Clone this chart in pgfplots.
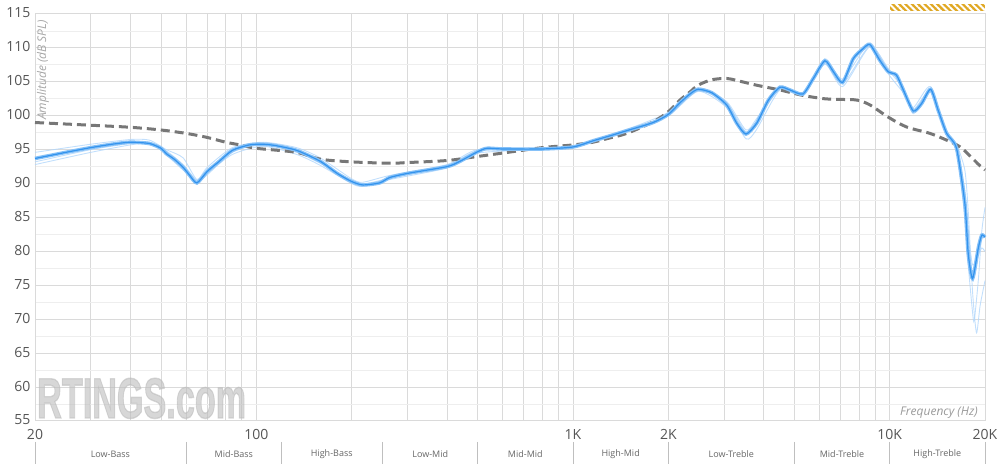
\documentclass[border=0pt]{standalone}
\usepackage{fontspec}
\setmainfont{Open Sans}
\newfontfamily\wmfont[FakeBold=2.5]{Liberation Sans}
\usepackage{pgfplots}
\pgfplotsset{compat=1.18}
\usetikzlibrary{patterns.meta}
\definecolor{gridmaj}{HTML}{DADADA}
\definecolor{gridmin}{HTML}{EEEEEE}
\definecolor{tickgray}{HTML}{555555}
\definecolor{mainblue}{HTML}{2A8EEC}
\definecolor{haloblue}{HTML}{86C1F8}
\definecolor{thinblue}{HTML}{B3D7FB}
\definecolor{targetgray}{HTML}{777777}
\definecolor{hatchgold}{HTML}{E0A824}
\definecolor{wm}{HTML}{BDBDBD}

\begin{document}
\begin{tikzpicture}
\useasboundingbox (-35pt,-49pt) rectangle (965pt,421pt);
\begin{axis}[
  scale only axis,
  width=950pt, height=407pt,
  xmode=log,
  xmin=20, xmax=20000,
  ymin=55, ymax=115,
  clip=false,
  xtick={20,30,40,50,60,70,80,90,100,200,300,400,500,600,700,800,900,1000,2000,3000,4000,5000,6000,7000,8000,9000,10000,20000},
  xticklabels={20,,,,,,,,100,,,,,,,,,1K,2K,,,,,,,,10K,20K},
  ytick={55,60,...,115},
  minor y tick num=1,
  grid=both,
  major grid style={gridmaj, line width=1pt},
  minor grid style={gridmin, line width=0.8pt},
  x grid style={gridmaj, line width=1pt},
  major tick length=0pt, minor tick length=0pt,
  axis line style={gridmaj, line width=1pt},
  tick label style={font=\fontsize{14}{16}\selectfont, text=tickgray},
  /pgf/number format/assume math mode=true,
  yticklabel style={xshift=-1pt, yshift=1pt},
  xticklabel style={yshift=-5pt},
]
% watermark
\node[anchor=base west, text=wm, text opacity=0.6, inner sep=0pt, xscale=0.6]
  at ([xshift=2pt,yshift=3pt]rel axis cs:0,0) {\wmfont\fontsize{57}{57}\selectfont\bfseries RTINGS.com};

% axis labels
\node[anchor=east, rotate=90, inner sep=0pt, text=black!35]
  at ([xshift=8pt,yshift=-6pt]rel axis cs:0,1) {\fontsize{12}{14}\selectfont\itshape Amplitude (dB SPL)};
\node[anchor=east, inner sep=0pt, text=black!40]
  at ([xshift=-7pt,yshift=8pt]rel axis cs:1,0) {\fontsize{12}{14}\selectfont\itshape Frequency (Hz)};

% thin individual measurements
\addplot[thinblue, line width=0.9pt, smooth, tension=0.4, opacity=0.8] coordinates {
(20,92.8)(30,94.6)(40,95.7)(46,96.0)(52,94.8)(58.7,92.8)(64.9,90.5)(70,91.5)(84,94.3)(105,95.5)(134,94.3)(159,92.7)(200,90.0)(217,89.6)(264,90.6)(400,92.3)(500,94.5)(800,95.0)(1000,95.3)(1479,97.6)(2000,100.0)(2483,103.6)(3056,101.2)(3516,96.6)(3802,98.0)(4500,103.8)(5320,103.0)(6240,107.6)(7100,104.3)(8660,110.2)(9890,107.0)(11040,104.3)(11870,100.3)(13470,103.5)(15130,97.8)(16260,95.8)(17270,92.0)(17700,86.0)(18270,74.0)(18800,68.0)(19300,72.0)(20000,75.7)
};
\addplot[thinblue, line width=0.9pt, smooth, tension=0.4, opacity=0.8] coordinates {
(20,94.6)(30,95.8)(40,96.5)(46,96.4)(52,95.0)(58.7,93.8)(64.9,90.6)(70,92.4)(84,95.3)(105,96.1)(134,95.3)(159,93.8)(200,90.7)(217,90.2)(264,91.2)(400,92.8)(500,95.0)(800,95.2)(1000,95.5)(1479,98.0)(2000,100.5)(2483,104.1)(3056,102.1)(3516,97.9)(3802,99.6)(4500,104.3)(5320,103.4)(6240,108.4)(7100,105.4)(8660,110.7)(9890,106.2)(11040,103.4)(11870,101.2)(13470,104.3)(15130,97.0)(16260,94.8)(17270,85.0)(17700,78.0)(18270,71.0)(18500,69.8)(19070,76.0)(19540,83.0)(20000,86.5)
};
\addplot[thinblue, line width=0.9pt, smooth, tension=0.4, opacity=0.8] coordinates {
(20,93.2)(30,95.0)(40,95.9)(46,96.1)(52,94.2)(58.7,92.0)(64.9,90.3)(70,91.3)(84,94.6)(105,95.9)(134,94.6)(159,93.0)(200,90.4)(217,89.9)(264,90.8)(400,92.6)(500,94.8)(800,95.1)(1000,95.4)(1479,97.7)(2000,100.1)(2483,103.7)(3056,101.8)(3516,97.6)(3802,99.2)(4500,104.0)(5320,103.1)(6240,107.8)(7100,104.7)(8660,110.3)(9890,106.8)(11040,104.0)(11870,100.9)(13470,103.7)(15130,97.6)(16260,95.5)(17270,89.0)(17700,83.0)(18270,78.0)(19070,79.5)(19540,80.5)(20000,80.0)
};

% target curve
\addplot[targetgray, line width=3pt, dash pattern=on 9pt off 5pt, smooth, tension=0.5] table {
f db
20 99.0
30 98.6
40 98.3
50 97.9
60 97.4
70 96.8
80 96.1
90 95.65
100 95.2
134 94.6
159 93.6
200 93.2
264 93.0
300 93.1
400 93.4
500 94.0
600 94.5
800 95.3
1000 95.7
1156 96.1
1300 96.7
1479 97.4
1790 99.1
2000 100.6
2175 102.3
2340 103.5
2483 104.5
2740 105.3
3056 105.5
3289 105.2
3802 104.5
4500 103.8
5320 103.0
6240 102.5
7100 102.4
7900 102.3
8660 101.6
9890 99.8
11300 98.35
13400 97.4
15130 96.4
16700 95.4
18000 94.0
19300 92.6
20000 92.0
};

% main measurement
\pgfplotstableread{
f db
20 93.7
25 94.6
30 95.3
35 95.8
40 96.1
46 95.9
50 95.2
52 94.4
55 93.6
58.7 92.4
61.6 91.2
64.9 90.1
70 91.8
76 93.2
84 94.9
95 95.7
105 95.8
115 95.6
134 94.9
159 93.3
180 91.5
200 90.3
217 89.8
245 90.1
264 90.9
300 91.5
400 92.5
440 93.3
500 94.7
535 95.2
600 95.1
800 95.1
1000 95.4
1156 96.3
1300 97.0
1479 97.8
1790 99.0
2000 100.2
2175 101.9
2340 103.2
2483 103.9
2740 103.4
3056 101.6
3289 98.9
3516 97.3
3802 98.9
4140 102.3
4500 104.2
4840 103.8
5320 103.2
5740 105.5
6240 108.1
6640 106.5
7100 104.9
7670 108.4
8200 109.8
8660 110.5
9300 108.2
9890 106.5
10500 106.0
11040 103.8
11870 100.7
12610 101.8
13470 103.9
14230 100.8
15130 97.4
16260 95.2
17270 87.1
17700 79.7
18270 76.0
19070 80.6
19540 82.4
20000 82.1
}\mainfr
\addplot[haloblue, line width=3.6pt, smooth, tension=0.4] table {\mainfr};
\addplot[mainblue, line width=1.2pt, smooth, tension=0.4, opacity=0.9] table {\mainfr};

% hatched bar (high-treble marker)
\fill[hatchgold] ([yshift=3pt]axis cs:10000,115) rectangle ([yshift=10pt]axis cs:20000,115);
\fill[pattern={Lines[angle=-45,distance=4.5pt,line width=2pt]}, pattern color=white]
  ([yshift=3pt]axis cs:10000,115) rectangle ([yshift=10pt]axis cs:20000,115);

% frequency region band
\pgfplotsinvokeforeach{20,60,120,250,500,1000,2000,5000,10000,20000}{
  \draw[black!25, line width=0.8pt] ([yshift=-21pt]axis cs:#1,55) -- ([yshift=-43pt]axis cs:#1,55);
}
\node[text=black!60, inner sep=0pt] at ([yshift=-33pt]axis cs:34.6,55) {\fontsize{9}{10}\selectfont Low-Bass};
\node[text=black!60, inner sep=0pt] at ([yshift=-33pt]axis cs:84.9,55) {\fontsize{9}{10}\selectfont Mid-Bass};
\node[text=black!60, inner sep=0pt] at ([yshift=-33pt]axis cs:173,55) {\fontsize{9}{10}\selectfont High-Bass};
\node[text=black!60, inner sep=0pt] at ([yshift=-33pt]axis cs:354,55) {\fontsize{9}{10}\selectfont Low-Mid};
\node[text=black!60, inner sep=0pt] at ([yshift=-33pt]axis cs:707,55) {\fontsize{9}{10}\selectfont Mid-Mid};
\node[text=black!60, inner sep=0pt] at ([yshift=-33pt]axis cs:1414,55) {\fontsize{9}{10}\selectfont High-Mid};
\node[text=black!60, inner sep=0pt] at ([yshift=-33pt]axis cs:3162,55) {\fontsize{9}{10}\selectfont Low-Treble};
\node[text=black!60, inner sep=0pt] at ([yshift=-33pt]axis cs:7071,55) {\fontsize{9}{10}\selectfont Mid-Treble};
\node[text=black!60, inner sep=0pt] at ([yshift=-33pt]axis cs:14142,55) {\fontsize{9}{10}\selectfont High-Treble};
\end{axis}
\end{tikzpicture}
\end{document}
